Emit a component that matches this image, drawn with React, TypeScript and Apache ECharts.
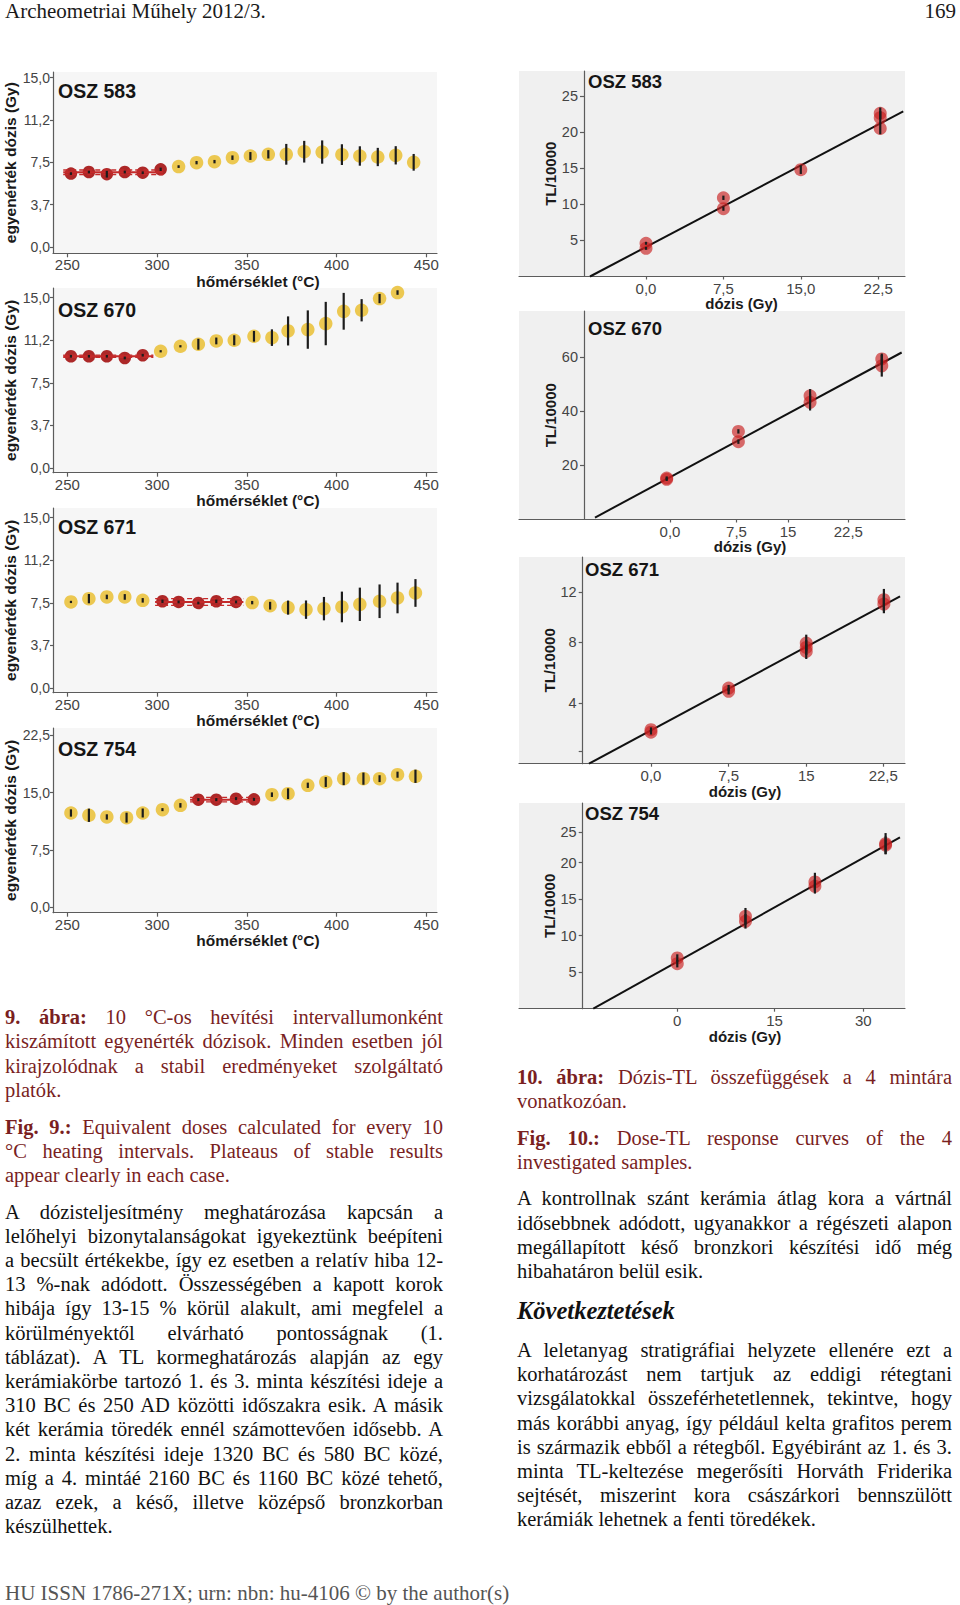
import React, { useEffect, useRef } from "react";
import * as echarts from "echarts";

// ---------------- Fig. 9 : equivalent dose per 10 °C heating interval ----------------
const TEMP_TICKS = [250, 300, 350, 400, 450];
const ED_TICKS_15 = [0, 3.75, 7.5, 11.25, 15];
const ED_LABELS_15 = ["0,0", "3,7", "7,5", "11,2", "15,0"];
const ED_TICKS_22 = [0, 7.5, 15, 22.5];
const ED_LABELS_22 = ["0,0", "7,5", "15,0", "22,5"];

const TEMP_583 = [252, 262, 272, 282, 292, 302, 312, 322, 332, 342, 352, 362, 372, 382, 392, 403, 413, 423, 433, 443];
const ED_583 = [6.5, 6.64, 6.45, 6.64, 6.58, 6.88, 7.12, 7.47, 7.56, 7.91, 8.06, 8.21, 8.21, 8.44, 8.41, 8.18, 8.06, 7.97, 8.12, 7.5];
const ERR_583 = [0.12, 0.12, 0.3, 0.12, 0.12, 0.15, 0.12, 0.15, 0.15, 0.2, 0.35, 0.37, 0.92, 0.96, 1.03, 0.92, 0.86, 0.81, 0.81, 0.74];
const RED_583 = [0, 5];
const PLATEAU_583 = [247.7, 303.5, 6.62, 0.2];

const TEMP_670 = [252, 262, 272, 282, 292, 302, 313, 323, 333, 343, 354, 364, 373, 384, 394, 404, 414, 424, 434];
const ED_670 = [9.84, 9.84, 9.84, 9.69, 9.93, 10.28, 10.72, 10.9, 11.19, 11.25, 11.6, 11.48, 12.07, 12.19, 12.72, 13.8, 13.89, 14.92, 15.45];
const ERR_670 = [0.12, 0.12, 0.12, 0.12, 0.12, 0.1, 0.1, 0.48, 0.3, 0.44, 0.47, 0.73, 1.28, 1.69, 1.91, 1.62, 0.98, 0.41, 0.2];
const RED_670 = [0, 4];
const PLATEAU_670 = [247.7, 297.9, 9.84, 0.1];

const TEMP_671 = [252, 262, 272, 282, 292, 303, 312, 323, 333, 344, 353, 363, 373, 383, 393, 403, 413, 424, 434, 444];
const ED_671 = [7.58, 7.87, 8.02, 8.02, 7.72, 7.64, 7.58, 7.49, 7.64, 7.58, 7.52, 7.25, 7.08, 6.9, 6.99, 7.14, 7.37, 7.64, 7.93, 8.37];
const ERR_671 = [0.1, 0.41, 0.2, 0.25, 0.2, 0.15, 0.12, 0.12, 0.15, 0.12, 0.15, 0.34, 0.62, 0.81, 1.03, 1.35, 1.47, 1.48, 1.35, 1.22];
const RED_671 = [5, 9];
const PLATEAU_671 = [298.9, 348.1, 7.58, 0.3];

const TEMP_754 = [252, 262, 272, 283, 292, 303, 313, 323, 333, 344, 354, 364, 373, 384, 394, 404, 415, 424, 434, 444];
const ED_754 = [12.32, 12.02, 11.8, 11.71, 12.32, 12.76, 13.32, 14.07, 14.07, 14.2, 14.11, 14.72, 14.85, 15.95, 16.38, 16.82, 16.82, 16.82, 17.34, 17.13];
const ERR_754 = [0.48, 0.87, 0.35, 0.65, 0.59, 0.2, 0.3, 0.2, 0.2, 0.2, 0.2, 0.3, 0.7, 0.35, 0.65, 0.85, 0.8, 0.45, 0.4, 0.87];
const RED_754 = [7, 10];
const PLATEAU_754 = [318.4, 357.4, 14.07, 0.3];

// ---------------- Fig. 10 : dose – TL response ----------------
const DOSE_583 = [0, 0, 7.5, 7.5, 15, 22.7, 22.7, 22.7];
const TL_583 = [4.6, 3.9, 10.9, 9.4, 14.8, 22.6, 22.0, 20.5];
const TLERR_583 = [0.2, 0.2, 0.3, 0.3, 0.6, 0.8, 0.9, 0.8];
const FIT_583 = [4.09, 0.753, -5.43, 24.93]; // intercept, slope, from, to
const DOSE_TICKS_583 = [0, 7.5, 15, 22.5];
const DOSE_LABELS_583 = ["0,0", "7,5", "15,0", "22,5"];
const TL_TICKS_583 = [5, 10, 15, 20, 25];
const TL_LABELS_583 = ["5", "10", "15", "20", "25"];

const DOSE_670 = [0, 0, 7.5, 7.5, 15, 15, 22.5, 22.5];
const TL_670 = [15.3, 14.8, 32.5, 28.7, 45.6, 43.2, 59.2, 56.7];
const TLERR_670 = [0.6, 0.6, 0.8, 0.8, 2.5, 3, 2, 4];
const FIT_670 = [14.94, 1.898, -7.5, 24.58];
const DOSE_TICKS_670 = [0.35, 7.3, 12.7, 19.0];
const DOSE_LABELS_670 = ["0,0", "7,5", "15", "22,5"];
const TL_TICKS_670 = [20, 40, 60];
const TL_LABELS_670 = ["20", "40", "60"];

const DOSE_671 = [0, 0, 7.5, 7.5, 15, 15, 15, 22.5, 22.5];
const TL_671 = [2.24, 2.07, 4.98, 4.76, 7.94, 7.65, 7.39, 10.79, 10.5];
const TLERR_671 = [0.15, 0.15, 0.2, 0.2, 0.55, 0.5, 0.5, 0.71, 0.6];
const FIT_671 = [2.195, 0.3664, -5.99, 24.06];
const DOSE_TICKS_671 = [0, 7.5, 15, 22.44];
const DOSE_LABELS_671 = ["0,0", "7,5", "15", "22,5"];
const TL_TICKS_671 = [4, 8, 11.3];
const TL_LABELS_671 = ["4", "8", "12"];
const TL_TICKMARKS_671 = [0.8, 4, 8, 11.3];

const DOSE_754 = [0, 0, 11, 11, 22.2, 22.2, 33.6, 33.6];
const TL_754 = [6.95, 6.16, 12.66, 11.97, 17.36, 16.77, 22.6, 22.4];
const TLERR_754 = [0.5, 0.5, 1.14, 1.0, 1.26, 1.0, 1.46, 1.2];
const FIT_754 = [6.43, 0.4746, -13.55, 35.92];
const DOSE_TICKS_754 = [0, 15.7, 30];
const DOSE_LABELS_754 = ["0", "15", "30"];
const TL_TICKS_754 = [5, 10, 15, 20, 24.2];
const TL_LABELS_754 = ["5", "10", "15", "20", "25"];

// ---------------- styles ----------------
const SANS = "'Liberation Sans', Arial, Helvetica, sans-serif";
const SERIF = "'Liberation Serif', 'Times New Roman', Times, serif";
const AXIS = "#5c5c5c";
const LABEL = "#444444";
const YELLOW = "#EBC444";
const DARKRED = "#A81C1C";
const PLATEAU_RED = "#C42A2A";
const RIGHT_RED = "rgba(200,32,32,0.82)";
const MAROON = "#7a1f1f";

function labelFor(ticks: number[], labels: string[]) {
  return (v: number) => {
    let best = 0;
    let d = Infinity;
    ticks.forEach((t, i) => {
      const dd = Math.abs(t - v);
      if (dd < d) { d = dd; best = i; }
    });
    return labels[best];
  };
}

function errorBars(i: number, data: number[][]) {
  return {
    type: "custom",
    xAxisIndex: i,
    yAxisIndex: i,
    z: 6,
    silent: true,
    clip: false,
    data,
    encode: { x: 0, y: 1 },
    renderItem: (_p: any, api: any) => {
      const x = api.value(0);
      const y = api.value(1);
      const e = api.value(2);
      const a = api.coord([x, y - e]);
      const b = api.coord([x, y + e]);
      return {
        type: "line",
        shape: { x1: a[0], y1: a[1], x2: b[0], y2: b[1] },
        style: { stroke: "#1c1c1c", lineWidth: 2.2 },
      };
    },
  };
}

function buildOption() {
  const grid: any[] = [];
  const xAxis: any[] = [];
  const yAxis: any[] = [];
  const series: any[] = [];
  const graphic: any[] = [];

  const left = [
    { title: "OSZ 583", top: 72, height: 181.3, ymin: -0.56, ymax: 15.5, t: TEMP_583, ed: ED_583, er: ERR_583, red: RED_583, pl: PLATEAU_583, yt: ED_TICKS_15, yl: ED_LABELS_15, ty: 91 },
    { title: "OSZ 670", top: 288, height: 184.7, ymin: -0.41, ymax: 15.85, t: TEMP_670, ed: ED_670, er: ERR_670, red: RED_670, pl: PLATEAU_670, yt: ED_TICKS_15, yl: ED_LABELS_15, ty: 310 },
    { title: "OSZ 671", top: 508, height: 184.7, ymin: -0.41, ymax: 15.85, t: TEMP_671, ed: ED_671, er: ERR_671, red: RED_671, pl: PLATEAU_671, yt: ED_TICKS_15, yl: ED_LABELS_15, ty: 527 },
    { title: "OSZ 754", top: 728, height: 184.7, ymin: -0.75, ymax: 23.46, t: TEMP_754, ed: ED_754, er: ERR_754, red: RED_754, pl: PLATEAU_754, yt: ED_TICKS_22, yl: ED_LABELS_22, ty: 748.7 },
  ];

  left.forEach((c, i) => {
    grid.push({ left: 53, width: 384, top: c.top, height: c.height, show: true, backgroundColor: "#f6f6f6", borderWidth: 0, outerBoundsMode: "none" });
    xAxis.push({
      gridIndex: i, type: "value", min: 242, max: 456,
      name: "hőmérséklet (°C)", nameLocation: "middle", nameGap: 15,
      nameTextStyle: { fontFamily: SANS, fontWeight: "bold", fontSize: 15.5, color: "#1a1a1a", padding: [0, 0, 0, 26] },
      axisLine: { show: true, onZero: false, lineStyle: { color: AXIS, width: 1.2 } },
      axisTick: { show: true, customValues: TEMP_TICKS, length: 4, lineStyle: { color: AXIS, width: 1.2 } },
      axisLabel: { show: true, customValues: TEMP_TICKS, margin: 4, fontSize: 15, color: LABEL, fontFamily: SANS },
      splitLine: { show: false },
    });
    yAxis.push({
      gridIndex: i, type: "value", min: c.ymin, max: c.ymax,
      name: "egyenérték dózis (Gy)", nameLocation: "middle", nameGap: 27,
      nameTextStyle: { fontFamily: SANS, fontWeight: "bold", fontSize: 15.5, color: "#1a1a1a" },
      axisLine: { show: true, onZero: false, lineStyle: { color: AXIS, width: 1.2 } },
      axisTick: { show: true, customValues: c.yt, length: 3, lineStyle: { color: AXIS, width: 1.2 } },
      axisLabel: { show: true, customValues: c.yt, formatter: labelFor(c.yt, c.yl), margin: 3, fontSize: 14, color: LABEL, fontFamily: SANS },
      splitLine: { show: false },
    });
    const yellow: number[][] = [];
    const red: number[][] = [];
    const bars: number[][] = [];
    c.t.forEach((t, k) => {
      const pt = [t, c.ed[k]];
      if (k >= c.red[0] && k <= c.red[1]) red.push(pt); else yellow.push(pt);
      bars.push([t, c.ed[k], c.er[k]]);
    });
    const [p0, p1, m, d] = c.pl;
    const lineBase = { type: "line", xAxisIndex: i, yAxisIndex: i, symbol: "none", silent: true, clip: false, z: 4 };
    series.push({ ...lineBase, data: [[p0, m], [p1, m]], lineStyle: { color: PLATEAU_RED, width: 2 } });
    series.push({ ...lineBase, data: [[p0, m + d], [p1, m + d]], lineStyle: { color: PLATEAU_RED, width: 1.3, type: [5, 3] } });
    series.push({ ...lineBase, data: [[p0, m - d], [p1, m - d]], lineStyle: { color: PLATEAU_RED, width: 1.3, type: [5, 3] } });
    series.push({ type: "scatter", xAxisIndex: i, yAxisIndex: i, data: yellow, symbolSize: 13.5, itemStyle: { color: YELLOW, opacity: 0.93 }, silent: true, z: 3 });
    series.push({ type: "scatter", xAxisIndex: i, yAxisIndex: i, data: red, symbolSize: 12.5, itemStyle: { color: DARKRED, opacity: 0.95 }, silent: true, z: 3 });
    series.push(errorBars(i, bars));
    graphic.push({ type: "text", x: 58, y: c.ty, style: { text: c.title, fontFamily: SANS, fontWeight: "bold", fontSize: 19.5, fill: "#151515", verticalAlign: "middle" } });
  });

  const right = [
    { title: "OSZ 583", top: 71, height: 205.5, xmin: -12.31, xmax: 25.1, ymax: 28.46, ax: 584, d: DOSE_583, tl: TL_583, er: TLERR_583, fit: FIT_583, xt: DOSE_TICKS_583, xl: DOSE_LABELS_583, yt: TL_TICKS_583, yl: TL_LABELS_583, ym: TL_TICKS_583, tx: 588, ty: 81, gap: 13, pad: 59 },
    { title: "OSZ 670", top: 311, height: 208.5, xmin: -15.45, xmax: 24.93, ymax: 76.9, ax: 584, d: DOSE_670, tl: TL_670, er: TLERR_670, fit: FIT_670, xt: DOSE_TICKS_670, xl: DOSE_LABELS_670, yt: TL_TICKS_670, yl: TL_LABELS_670, ym: TL_TICKS_670, tx: 588, ty: 328.7, gap: 15, pad: 76 },
    { title: "OSZ 671", top: 557, height: 206.7, xmin: -12.75, xmax: 24.54, ymax: 13.6, ax: 582.7, d: DOSE_671, tl: TL_671, er: TLERR_671, fit: FIT_671, xt: DOSE_TICKS_671, xl: DOSE_LABELS_671, yt: TL_TICKS_671, yl: TL_LABELS_671, ym: TL_TICKMARKS_671, tx: 585, ty: 569.7, gap: 13, pad: 66 },
    { title: "OSZ 754", top: 803, height: 205.7, xmin: -25.53, xmax: 36.73, ymax: 28.18, ax: 582.7, d: DOSE_754, tl: TL_754, er: TLERR_754, fit: FIT_754, xt: DOSE_TICKS_754, xl: DOSE_LABELS_754, yt: TL_TICKS_754, yl: TL_LABELS_754, ym: TL_TICKS_754, tx: 585, ty: 813, gap: 13, pad: 66 },
  ];

  right.forEach((c, j) => {
    const i = j + 4;
    grid.push({ left: 519, width: 386, top: c.top, height: c.height, show: true, backgroundColor: "#f0f0f0", borderWidth: 0, outerBoundsMode: "none" });
    xAxis.push({
      gridIndex: i, type: "value", min: c.xmin, max: c.xmax,
      name: "dózis (Gy)", nameLocation: "middle", nameGap: c.gap,
      nameTextStyle: { fontFamily: SANS, fontWeight: "bold", fontSize: 15, color: "#1a1a1a", padding: [0, 0, 0, c.pad] },
      axisLine: { show: true, onZero: false, lineStyle: { color: AXIS, width: 1.2 } },
      axisTick: { show: true, customValues: c.xt, length: 3, lineStyle: { color: AXIS, width: 1.2 } },
      axisLabel: { show: true, customValues: c.xt, formatter: labelFor(c.xt, c.xl), margin: 4, fontSize: 15, color: LABEL, fontFamily: SANS },
      splitLine: { show: false },
    });
    yAxis.push({
      gridIndex: i, type: "value", min: 0, max: c.ymax, offset: -(c.ax - 519),
      name: "TL/10000", nameLocation: "middle", nameGap: 18,
      nameTextStyle: { fontFamily: SANS, fontWeight: "bold", fontSize: 15, color: "#1a1a1a" },
      axisLine: { show: true, onZero: false, lineStyle: { color: AXIS, width: 1.2 } },
      axisTick: { show: true, customValues: c.ym, length: 4, lineStyle: { color: AXIS, width: 1.2 } },
      axisLabel: { show: true, customValues: c.yt, formatter: labelFor(c.yt, c.yl), margin: 6, fontSize: 14.5, color: LABEL, fontFamily: SANS },
      splitLine: { show: false },
    });
    const [a, b, x0, x1] = c.fit;
    series.push({ type: "line", xAxisIndex: i, yAxisIndex: i, symbol: "none", silent: true, clip: false, z: 2, data: [[x0, a + b * x0], [x1, a + b * x1]], lineStyle: { color: "#111", width: 2 } });
    series.push({ type: "scatter", xAxisIndex: i, yAxisIndex: i, silent: true, z: 3, symbolSize: 13, data: c.d.map((d, k) => [d, c.tl[k]]), itemStyle: { color: RIGHT_RED } });
    series.push(errorBars(i, c.d.map((d, k) => [d, c.tl[k], c.er[k]])));
    graphic.push({ type: "text", x: c.tx, y: c.ty, style: { text: c.title, fontFamily: SANS, fontWeight: "bold", fontSize: 18.5, fill: "#151515", verticalAlign: "middle" } });
  });

  return { animation: false, textStyle: { fontFamily: SANS }, grid, xAxis, yAxis, series, graphic };
}

// ---------------- text ----------------
type Para = { x: number; y: number; w: number; color: string; bold?: string; lines: string[] };

const PARAS: Para[] = [
  { x: 5, y: 1005.3, w: 438, color: MAROON, bold: "9. ábra:", lines: [
    "9. ábra: 10 °C-os hevítési intervallumonként",
    "kiszámított egyenérték dózisok. Minden esetben jól",
    "kirajzolódnak a stabil eredményeket szolgáltató",
    "platók.",
  ] },
  { x: 5, y: 1115, w: 438, color: MAROON, bold: "Fig. 9.:", lines: [
    "Fig. 9.: Equivalent doses calculated for every 10",
    "°C heating intervals. Plateaus of stable results",
    "appear clearly in each case.",
  ] },
  { x: 5, y: 1199.7, w: 438, color: "#111", lines: [
    "A dózisteljesítmény meghatározása kapcsán a",
    "lelőhelyi bizonytalanságokat igyekeztünk beépíteni",
    "a becsült értékekbe, így ez esetben a relatív hiba 12-",
    "13 %-nak adódott. Összességében a kapott korok",
    "hibája így 13-15 % körül alakult, ami megfelel a",
    "körülményektől elvárható pontosságnak (1.",
    "táblázat). A TL kormeghatározás alapján az egy",
    "kerámiakörbe tartozó 1. és 3. minta készítési ideje a",
    "310 BC és 250 AD közötti időszakra esik. A másik",
    "két kerámia töredék ennél számottevően idősebb. A",
    "2. minta készítési ideje 1320 BC és 580 BC közé,",
    "míg a 4. mintáé 2160 BC és 1160 BC közé tehető,",
    "azaz ezek, a késő, illetve középső bronzkorban",
    "készülhettek.",
  ] },
  { x: 517, y: 1064.6, w: 435, color: MAROON, bold: "10. ábra:", lines: [
    "10. ábra: Dózis-TL összefüggések a 4 mintára",
    "vonatkozóan.",
  ] },
  { x: 517, y: 1126, w: 435, color: MAROON, bold: "Fig. 10.:", lines: [
    "Fig. 10.: Dose-TL response curves of the 4",
    "investigated samples.",
  ] },
  { x: 517, y: 1186.4, w: 435, color: "#111", lines: [
    "A kontrollnak szánt kerámia átlag kora a vártnál",
    "idősebbnek adódott, ugyanakkor a régészeti alapon",
    "megállapított késő bronzkori készítési idő még",
    "hibahatáron belül esik.",
  ] },
  { x: 517, y: 1338, w: 435, color: "#111", lines: [
    "A leletanyag stratigráfiai helyzete ellenére ezt a",
    "korhatározást nem tartjuk az eddigi rétegtani",
    "vizsgálatokkal összeférhetetlennek, tekintve, hogy",
    "más korábbi anyag, így például kelta grafitos perem",
    "is származik ebből a rétegből. Egyébiránt az 1. és 3.",
    "minta TL-keltezése megerősíti Horváth Friderika",
    "sejtését, miszerint kora császárkori bennszülött",
    "kerámiák lehetnek a fenti töredékek.",
  ] },
];

const LH = 24.2;

export default function App() {
  const ref = useRef<HTMLDivElement>(null);
  useEffect(() => {
    if (!ref.current) return;
    const chart = echarts.init(ref.current, null, { renderer: "svg" });
    chart.setOption(buildOption() as any);
    return () => chart.dispose();
  }, []);

  return (
    <div style={{ position: "absolute", left: 0, top: 0, width: 960, height: 1605, overflow: "hidden", background: "#fff" }}>
      <div ref={ref} style={{ position: "absolute", left: 0, top: 0, width: 960, height: 1050 }} />
      <div style={{ position: "absolute", left: 5, top: -1, fontFamily: SERIF, fontSize: 21, lineHeight: "24px", color: "#1a1a1a", whiteSpace: "nowrap" }}>
        Archeometriai Műhely 2012/3.
      </div>
      <div style={{ position: "absolute", right: 4, top: -1, fontFamily: SERIF, fontSize: 21, lineHeight: "24px", color: "#1a1a1a" }}>169</div>
      {PARAS.map((p, i) => (
        <div key={i} style={{ position: "absolute", left: p.x, top: p.y, width: p.w, color: p.color, fontFamily: SERIF, fontSize: 20.5, lineHeight: `${LH}px` }}>
          {p.lines.map((ln, j) => {
            const last = j === p.lines.length - 1;
            const content = j === 0 && p.bold && ln.startsWith(p.bold)
              ? (<><b>{p.bold}</b>{ln.slice(p.bold.length)}</>)
              : ln;
            return (
              <div key={j} style={{ whiteSpace: "nowrap", height: LH, textAlign: last ? "left" : "justify", textAlignLast: last ? "left" : "justify" } as any}>
                {content}
              </div>
            );
          })}
        </div>
      ))}
      <div style={{ position: "absolute", left: 517, top: 1296, fontFamily: SERIF, fontSize: 24.5, fontWeight: "bold", fontStyle: "italic", lineHeight: "30px", color: "#111", whiteSpace: "nowrap" }}>
        Következtetések
      </div>
      <div style={{ position: "absolute", left: 5, top: 1581, fontFamily: SERIF, fontSize: 21, lineHeight: "24px", color: "#555", whiteSpace: "nowrap" }}>
        HU ISSN 1786-271X; urn: nbn: hu-4106 © by the author(s)
      </div>
    </div>
  );
}
